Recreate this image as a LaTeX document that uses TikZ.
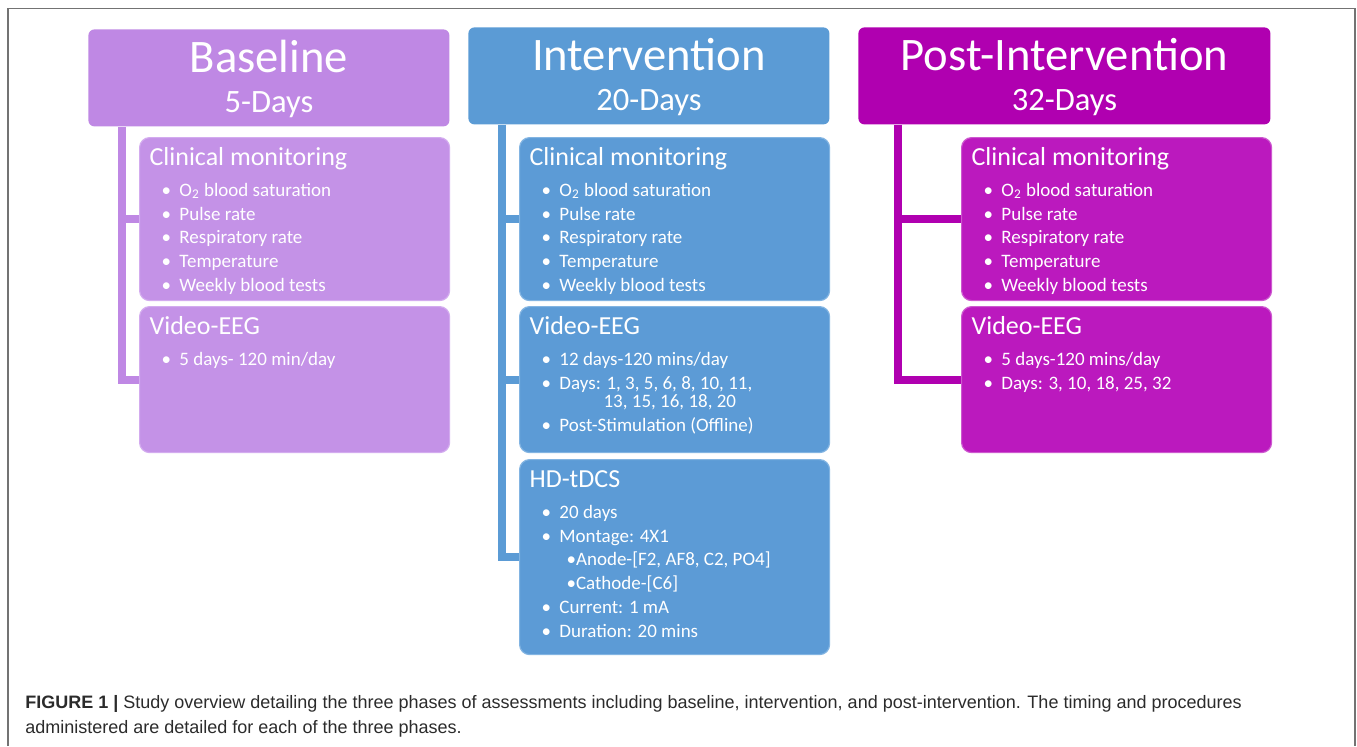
\documentclass[tikz,border=0pt]{standalone}
\usepackage{fontspec}
\setmainfont{Carlito}
\newfontfamily\capfont{Liberation Sans}
\definecolor{basehead}{HTML}{BF88E4}
\definecolor{basesub}{HTML}{C492E7}
\definecolor{baseedge}{HTML}{D3ABEF}
\definecolor{inthead}{HTML}{5B9BD5}
\definecolor{intsub}{HTML}{5C9BD6}
\definecolor{intedge}{HTML}{82B4E2}
\definecolor{posthead}{HTML}{B000B0}
\definecolor{postsub}{HTML}{BB19BE}
\definecolor{postedge}{HTML}{CD58CF}
\definecolor{captext}{HTML}{2B2B2B}
\newcommand{\headtext}[3]{\parbox[c][48.5pt][t]{#1}{\centering\rule{0pt}{21.5pt}{\fontsize{23.3}{25}\selectfont #2}\par\fontsize{16.3}{20}\selectfont #3\par}}
\newcommand{\paneltext}[2]{\parbox[c][#1][t]{145pt}{#2}}
\newcommand{\ptitle}[1]{\rule{0pt}{14pt}{\fontsize{13}{15}\selectfont #1}\par\fontsize{9.5}{11.85}\selectfont\vspace{3.6pt}}
\newcommand{\pitem}[1]{\hspace*{6pt}\textbullet\hspace{4.2pt}#1\par}
\newcommand{\psubitem}[1]{\hspace*{18.5pt}\textbullet#1\par}
\tikzset{
  headbox/.style={anchor=north west, rounded corners=3pt, inner sep=0pt, text=white},
  subbox/.style={anchor=north west, rounded corners=5pt, inner xsep=5pt, inner ysep=0pt, line width=0.6pt, text=white},
  link/.style={line width=4pt}
}
\begin{document}
\begin{tikzpicture}[x=0.5pt, y=-0.5pt]
\useasboundingbox (0,0) rectangle (1357,746);
\draw[line width=0.8pt, color=black!55] (8,746) -- (8,8.5) -- (1355,8.5) -- (1355,746);

\node[headbox, fill=basehead] (hb) at (88,29) {\headtext{180.5pt}{Baseline}{5-Days}};
\node[subbox, fill=basesub, draw=baseedge] (bc) at (139,137) {\paneltext{81.5pt}{\ptitle{Clinical monitoring}
  \pitem{O\textsubscript{2} blood saturation}\pitem{Pulse rate}\pitem{Respiratory rate}\pitem{Temperature}\pitem{Weekly blood tests}}};
\node[subbox, fill=basesub, draw=baseedge] (bv) at (139,306) {\paneltext{73pt}{\ptitle{Video-EEG}
  \pitem{5 days- 120 min/day}}};
\coordinate (bt) at ([xshift=17pt]hb.south west);
\draw[link, basehead] (bt) |- (bc.west);
\draw[link, basehead] (bt) |- (bv.west);

\node[headbox, fill=inthead] (hi) at (468,27) {\headtext{180.5pt}{Intervention}{20-Days}};
\node[subbox, fill=intsub, draw=intedge] (ic) at (519,137) {\paneltext{81.5pt}{\ptitle{Clinical monitoring}
  \pitem{O\textsubscript{2} blood saturation}\pitem{Pulse rate}\pitem{Respiratory rate}\pitem{Temperature}\pitem{Weekly blood tests}}};
\node[subbox, fill=intsub, draw=intedge] (iv) at (519,306) {\paneltext{73pt}{\ptitle{Video-EEG}
  \pitem{12 days-120 mins/day}\pitem{Days: 1, 3, 5, 6, 8, 10, 11,}\vspace{-2.5pt}
  \hspace*{37pt}13, 15, 16, 18, 20\par\pitem{Post-Stimulation (Offline)}}};
\node[subbox, fill=intsub, draw=intedge] (ih) at (519,459) {\paneltext{97.5pt}{\ptitle{HD-tDCS}
  \pitem{20 days}\pitem{Montage: 4X1}\psubitem{Anode-[F2, AF8, C2, PO4]}\psubitem{Cathode-[C6]}\pitem{Current: 1 mA}\pitem{Duration: 20 mins}}};
\coordinate (it) at ([xshift=17pt]hi.south west);
\draw[link, inthead] (it) |- (ic.west);
\draw[link, inthead] (it) |- (iv.west);
\draw[link, inthead] (it) |- (ih.west);

\node[headbox, fill=posthead] (hp) at (858,27) {\headtext{206pt}{Post-Intervention}{32-Days}};
\node[subbox, fill=postsub, draw=postedge] (pc) at (961,137) {\paneltext{81.5pt}{\ptitle{Clinical monitoring}
  \pitem{O\textsubscript{2} blood saturation}\pitem{Pulse rate}\pitem{Respiratory rate}\pitem{Temperature}\pitem{Weekly blood tests}}};
\node[subbox, fill=postsub, draw=postedge] (pv) at (961,306) {\paneltext{73pt}{\ptitle{Video-EEG}
  \pitem{5 days-120 mins/day}\pitem{Days: 3, 10, 18, 25, 32}}};
\coordinate (pt) at ([xshift=20pt]hp.south west);
\draw[link, posthead] (pt) |- (pc.west);
\draw[link, posthead] (pt) |- (pv.west);

\node[anchor=north west, inner sep=0pt, align=left, text=captext, font=\capfont\fontsize{9}{12.3}\selectfont] (cap) at (25,695)
  {\textbf{FIGURE 1 |} Study overview detailing the three phases of assessments including baseline, intervention, and post-intervention. The timing and procedures\\
   administered are detailed for each of the three phases.};
\end{tikzpicture}
\end{document}
